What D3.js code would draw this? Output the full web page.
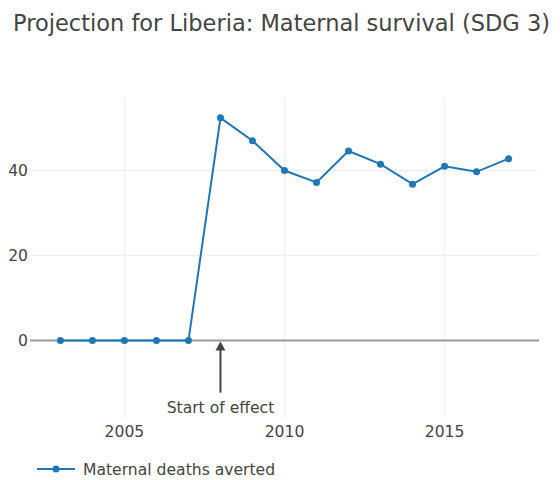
<!DOCTYPE html>
<html>
<head>
<meta charset="utf-8">
<script src="https://cdn.jsdelivr.net/npm/d3@7"></script>
<style>
  body { margin: 0; background: #fff; }
  text { font-family: Verdana, "DejaVu Sans", sans-serif; fill: #444; }
</style>
</head>
<body>
<div id="chart"></div>
<script>
// data
var years = [2003, 2004, 2005, 2006, 2007, 2008, 2009, 2010, 2011, 2012, 2013, 2014, 2015, 2016, 2017];
var averted = [0, 0, 0, 0, 0, 52.4, 47.0, 40.0, 37.2, 44.6, 41.5, 36.8, 41.0, 39.7, 42.8];
var xTicks = [2005, 2010, 2015];
var yTicks = [0, 20, 40];
var effectYear = 2008;

var W = 560, H = 480;
var margin = {top: 97, right: 21, bottom: 62, left: 30};
var width = W - margin.left - margin.right,
    height = H - margin.top - margin.bottom;

var svg = d3.select("#chart").append("svg")
    .attr("width", W)
    .attr("height", H);

svg.append("text")
    .attr("x", 13)
    .attr("y", 31)
    .style("font-size", "22.5px")
    .text("Projection for Liberia: Maternal survival (SDG 3)");

var g = svg.append("g")
    .attr("transform", "translate(" + margin.left + "," + margin.top + ")");

// scales
var x = d3.scaleLinear().domain([2002.05, 2017.95]).range([0, width]);
var y = d3.scaleLinear().domain([-18.2, 57.3]).range([height, 0]);

// grid
g.append("g").selectAll("line")
    .data(xTicks)
    .enter().append("line")
    .attr("x1", d => x(d)).attr("x2", d => x(d))
    .attr("y1", 0).attr("y2", height)
    .attr("stroke", "#eee").attr("stroke-width", 1);

g.append("g").selectAll("line")
    .data(yTicks.filter(d => d !== 0))
    .enter().append("line")
    .attr("x1", 0).attr("x2", width)
    .attr("y1", d => y(d)).attr("y2", d => y(d))
    .attr("stroke", "#eee").attr("stroke-width", 1);

// zero line
g.append("line")
    .attr("x1", 0).attr("x2", width)
    .attr("y1", y(0)).attr("y2", y(0))
    .attr("stroke", "#999").attr("stroke-width", 2);

// tick labels
g.append("g").selectAll("text")
    .data(yTicks)
    .enter().append("text")
    .attr("x", -2)
    .attr("y", d => y(d))
    .attr("dy", "0.36em")
    .attr("text-anchor", "end")
    .style("font-size", "15.6px")
    .text(d => d);

g.append("g").selectAll("text")
    .data(xTicks)
    .enter().append("text")
    .attr("x", d => x(d))
    .attr("y", height + 18.5)
    .attr("text-anchor", "middle")
    .style("font-size", "15.6px")
    .text(d => d);

// the line
var data = years.map((yr, i) => ({year: yr, value: averted[i]}));
var line = d3.line().x(d => x(d.year)).y(d => y(d.value));

g.append("path")
    .datum(data)
    .attr("d", line)
    .attr("fill", "none")
    .attr("stroke", "#1f77b4")
    .attr("stroke-width", 2);

g.append("g").selectAll("circle")
    .data(data)
    .enter().append("circle")
    .attr("cx", d => x(d.year))
    .attr("cy", d => y(d.value))
    .attr("r", 3.5)
    .attr("fill", "#1f77b4");

// annotation arrow
var ax = x(effectYear);
g.append("line")
    .attr("x1", ax).attr("x2", ax)
    .attr("y1", y(0) + 8).attr("y2", y(0) + 52)
    .attr("stroke", "#444").attr("stroke-width", 2);
g.append("path")
    .attr("d", "M" + ax + "," + (y(0) + 1) + "L" + (ax - 5) + "," + (y(0) + 10) + "L" + (ax + 5) + "," + (y(0) + 10) + "Z")
    .attr("fill", "#444");
g.append("text")
    .attr("x", ax)
    .attr("y", y(0) + 72)
    .attr("text-anchor", "middle")
    .style("font-size", "15.6px")
    .text("Start of effect");

// legend
var leg = svg.append("g").attr("transform", "translate(37,469)");
leg.append("line")
    .attr("x1", 0).attr("x2", 38).attr("y1", 0).attr("y2", 0)
    .attr("stroke", "#1f77b4").attr("stroke-width", 2);
leg.append("circle")
    .attr("cx", 19).attr("cy", 0).attr("r", 3.5)
    .attr("fill", "#1f77b4");
leg.append("text")
    .attr("x", 46).attr("y", 0).attr("dy", "0.36em")
    .style("font-size", "15.6px")
    .text("Maternal deaths averted");
</script>
</body>
</html>
